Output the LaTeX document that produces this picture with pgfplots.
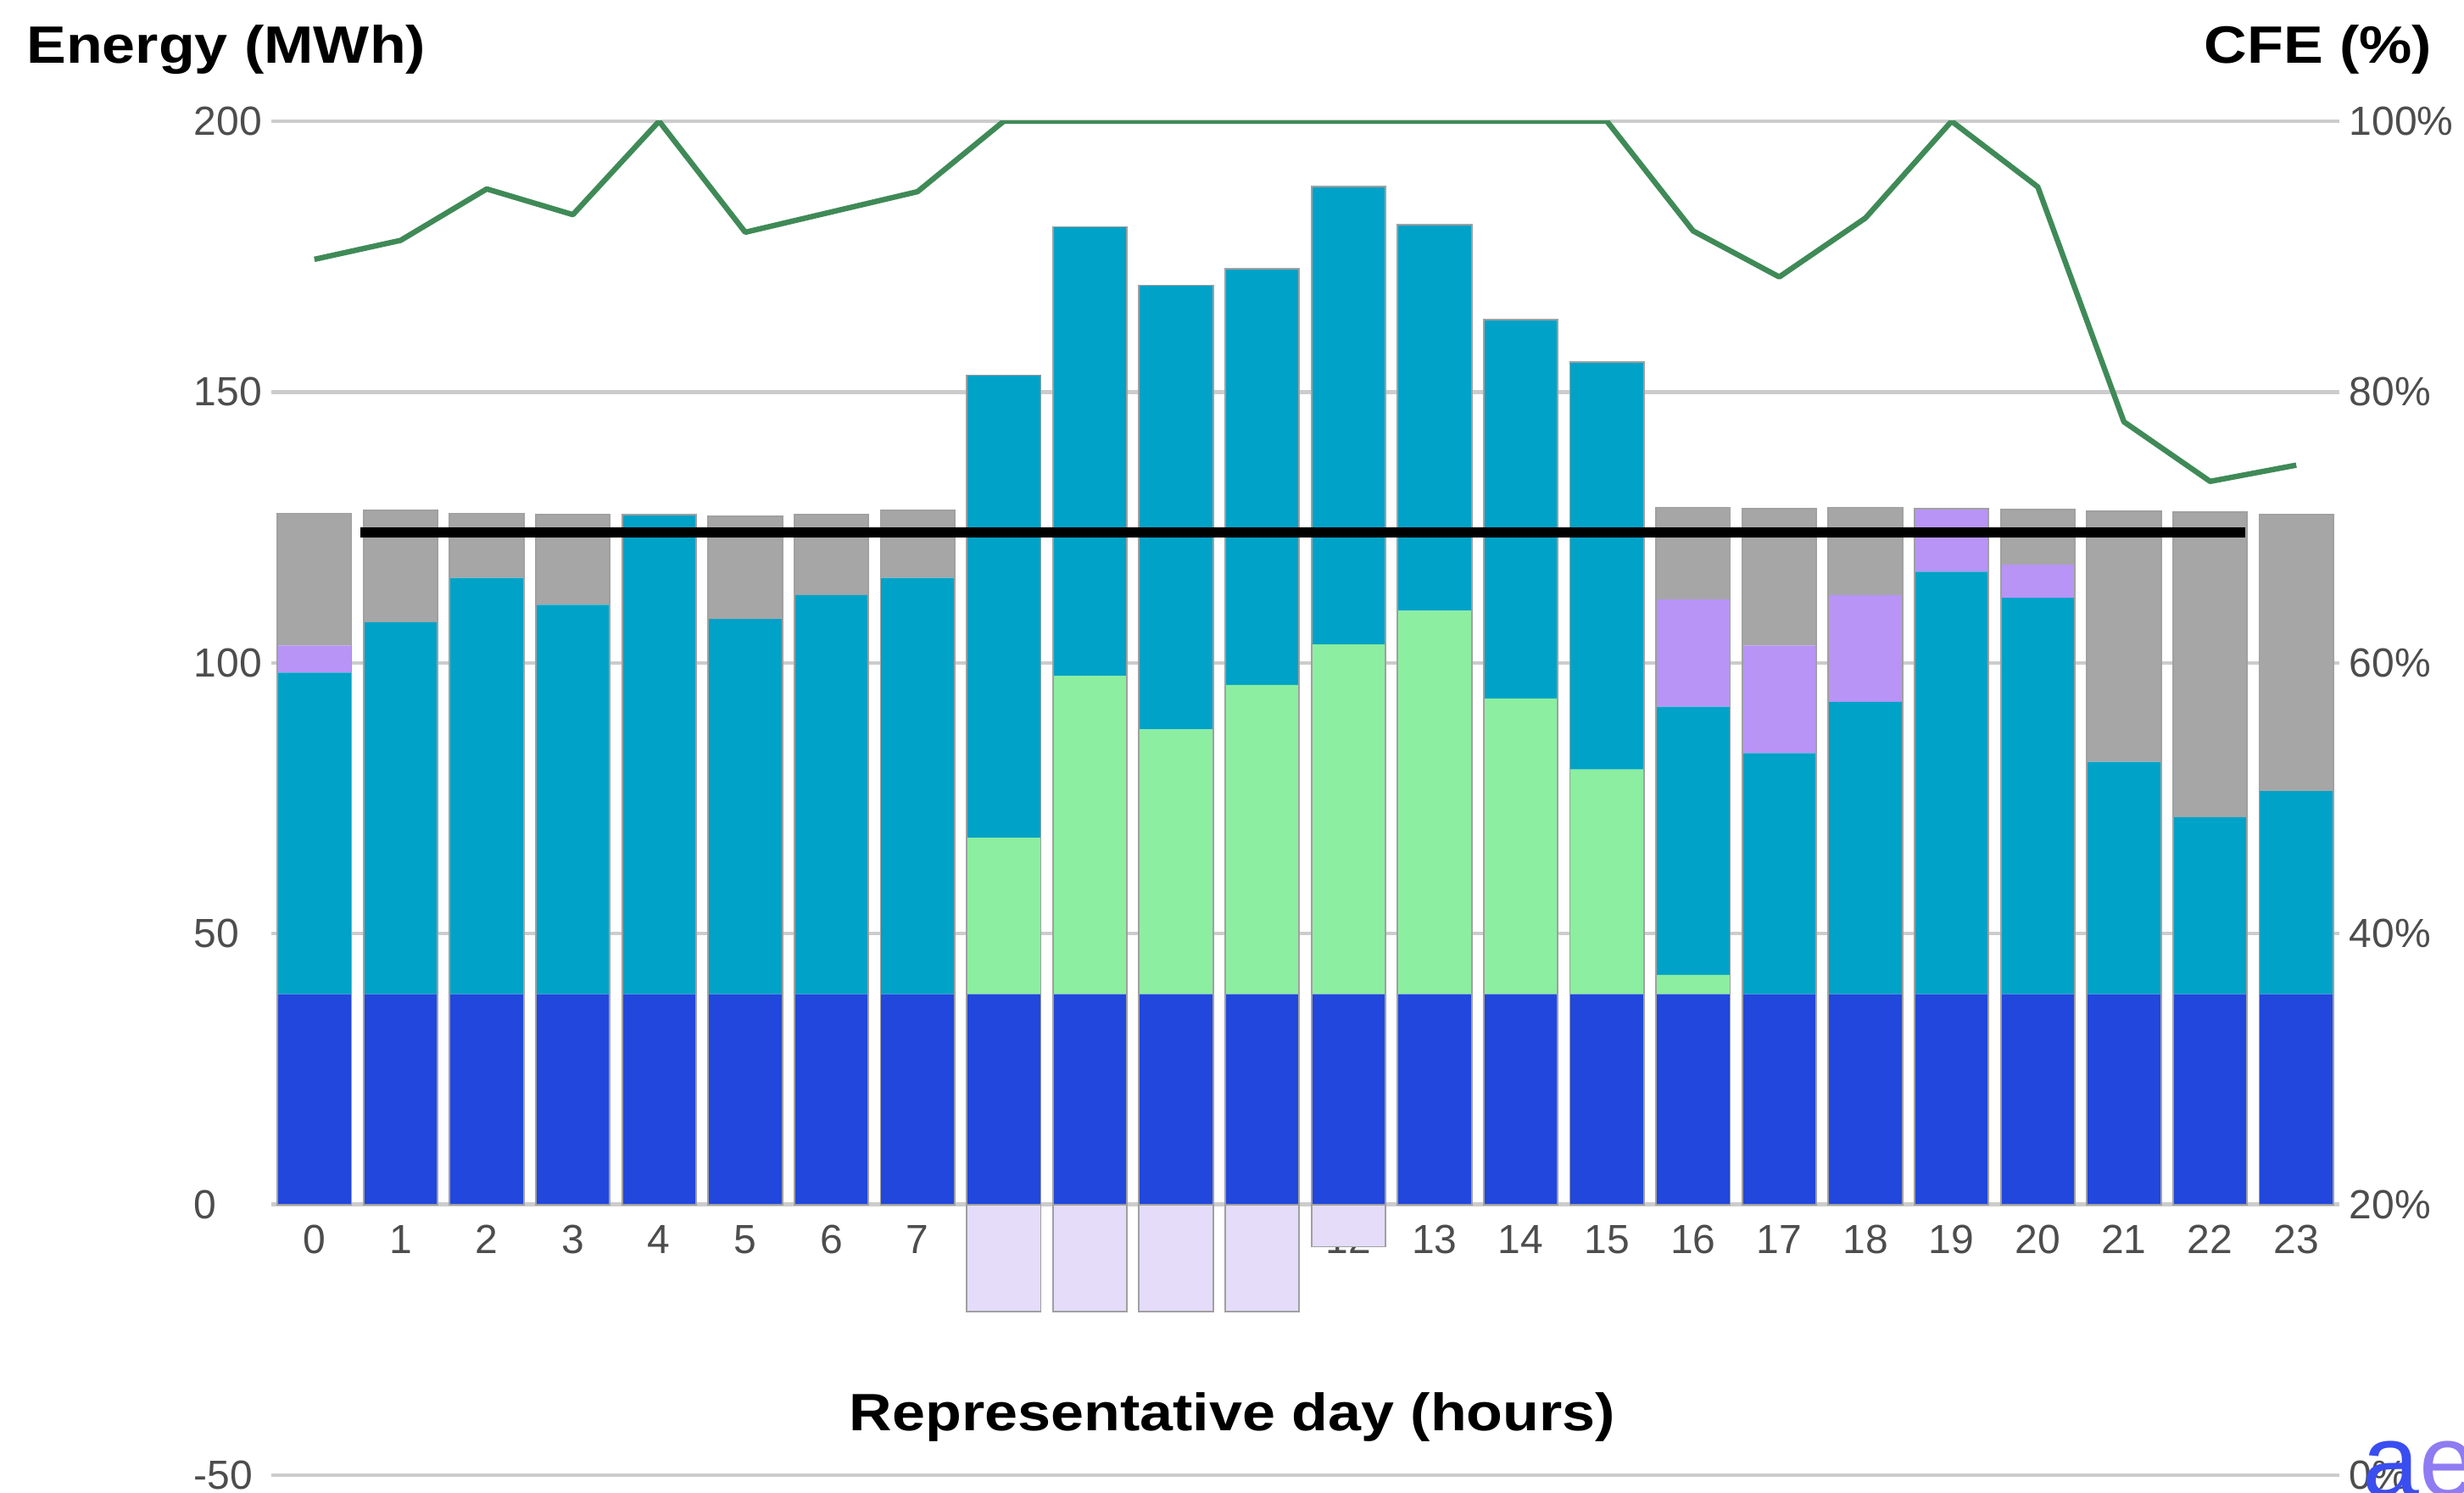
\documentclass[border=0pt]{standalone}
\usepackage{fontspec}
\setmainfont{Liberation Sans}
\newfontfamily\titlefont[FakeStretch=1.13]{Liberation Sans}
\usepackage{pgfplots}
\usepackage{pgfplotstable}
\pgfplotsset{compat=1.18}

\definecolor{blueC}{HTML}{2147DC}
\definecolor{greenC}{HTML}{8BEEA0}
\definecolor{tealC}{HTML}{00A2C7}
\definecolor{purpC}{HTML}{B794F6}
\definecolor{grayC}{HTML}{A6A6A6}
\definecolor{negC}{HTML}{E4DCF9}
\definecolor{lineC}{HTML}{3F8A57}
\definecolor{gridC}{HTML}{CCCCCC}
\definecolor{tickC}{HTML}{4D4D4D}
\definecolor{outC}{HTML}{A0A0A0}
\definecolor{logoA}{HTML}{3A4DF0}
\definecolor{logoE}{HTML}{8F7BF2}

% energy stack per hour (MWh)
\pgfplotstableread{
h  blue green teal purple gray
0  38.8 0    59.4 5.0  24.4
1  38.8 0    68.7 0    20.7
2  38.8 0    76.9 0    11.9
3  38.8 0    71.9 0    16.7
4  38.8 0    88.6 0    0
5  38.8 0    69.3 0    19.0
6  38.8 0    73.7 0    14.9
7  38.8 0    76.9 0    12.4
8  38.8 28.9 85.4 0    0
9  38.8 58.8 82.9 0    0
10 38.8 48.9 82.0 0    0
11 38.8 57.1 76.8 0    0
12 38.8 64.6 84.6 0    0
13 38.8 70.8 71.3 0    0
14 38.8 54.6 70.0 0    0
15 38.8 41.5 75.2 0    0
16 38.8 3.6  49.5 19.8 17.0
17 38.8 0    44.5 19.9 25.3
18 38.8 0    54.0 19.7 16.2
19 38.8 0    78.0 11.7 0
20 38.8 0    73.2 6.1  10.2
21 38.8 0    42.9 0    46.3
22 38.8 0    32.7 0    56.3
23 38.8 0    37.5 0    51.1
}\energy

% bar tops (MWh), for the outline of each bar
\pgfplotstableread{
h total
0 127.6
1 128.2
2 127.6
3 127.4
4 127.4
5 127.1
6 127.4
7 128.1
8 153.1
9 180.5
10 169.7
11 172.7
12 188.0
13 180.9
14 163.4
15 155.5
16 128.7
17 128.5
18 128.7
19 128.5
20 128.3
21 128.0
22 127.8
23 127.4
}\totals

% CFE (%)
\pgfplotstableread{
h cfe
0 89.8
1 91.2
2 95.0
3 93.1
4 100
5 91.8
6 93.3
7 94.8
8 100
9 100
10 100
11 100
12 100
13 100
14 100
15 100
16 91.9
17 88.5
18 92.85
19 100
20 95.15
21 77.8
22 73.4
23 74.6
}\cfe

\begin{document}
\begin{tikzpicture}
\path[use as bounding box] (-80pt,-5pt) rectangle (646.5pt,435pt);

\pgfplotsset{
  common/.style={
    at={(0,0)}, anchor=south west,
    scale only axis, width=609.75pt, height=399.25pt,
    xmin=-0.5, xmax=23.5,
    axis line style={draw=none},
    major tick length=0pt,
    /pgf/number format/assume math mode=true,
    tick label style={font=\fontsize{12}{14}\selectfont, text=tickC},
  }
}

% stacked energy bars
\begin{axis}[
  common,
  ymin=-50, ymax=200,
  ybar stacked, bar width=0.86,
  xtick={0,...,23},
  ytick={-50,0,50,100,150,200},
  ymajorgrids,
  grid style={line width=1.1pt, draw=gridC},
  yticklabel style={anchor=west, inner sep=0pt, xshift=-23pt},
  xticklabel style={anchor=north, inner sep=0pt, yshift=73.85pt},
]
\addplot[fill=blueC, draw=none] table[x=h, y=blue] {\energy};
\addplot[fill=greenC, draw=none] table[x=h, y=green] {\energy};
\addplot[fill=tealC, draw=none] table[x=h, y=teal] {\energy};
\addplot[fill=purpC, draw=none] table[x=h, y=purple] {\energy};
\addplot[fill=grayC, draw=none] table[x=h, y=gray] {\energy};
\end{axis}

% negative bars, outlines and demand line
\begin{axis}[
  common,
  ymin=-50, ymax=200,
  hide axis,
]
\addplot[ybar, bar width=0.86, bar shift=0pt, fill=none, draw=outC, line width=0.45pt] table[x=h, y=total] {\totals};
\addplot[ybar, bar width=0.86, bar shift=0pt, fill=negC, draw=outC, line width=0.45pt] coordinates {(8,-19.8) (9,-19.8) (10,-19.8) (11,-19.8) (12,-7.8)};
\addplot[black, line width=2.9pt, no markers] coordinates {(0.535,124.1) (22.41,124.1)};
\end{axis}

% CFE line on the right axis
\begin{axis}[
  common,
  ymin=0, ymax=100,
  xtick=\empty,
  ytick={0,20,40,60,80,100},
  yticklabels={0\%,20\%,40\%,60\%,80\%,100\%},
  yticklabel pos=right,
  yticklabel style={anchor=west, inner sep=0pt, xshift=2.75pt},
]
\addplot[lineC, line width=1.6pt, no markers, line join=round] table[x=h, y=cfe] {\cfe};
\end{axis}

\node[anchor=base west, inner sep=0pt, font=\titlefont\bfseries\fontsize{15.5}{18}\selectfont] at (-72.35pt,416.25pt) {Energy (MWh)};
\node[anchor=base east, inner sep=0pt, font=\titlefont\bfseries\fontsize{15.5}{18}\selectfont] at (637.25pt,416.25pt) {CFE (\%)};
\node[anchor=base, inner sep=0pt, font=\titlefont\bfseries\fontsize{15.5}{18}\selectfont] at (283.4pt,13.25pt) {Representative day (hours)};
\node[anchor=base west, inner sep=0pt, font=\fontsize{30}{32}\selectfont] at (616.5pt,-6pt) {\textcolor{logoA}{a}\textcolor{logoE}{e}};
\end{tikzpicture}
\end{document}
